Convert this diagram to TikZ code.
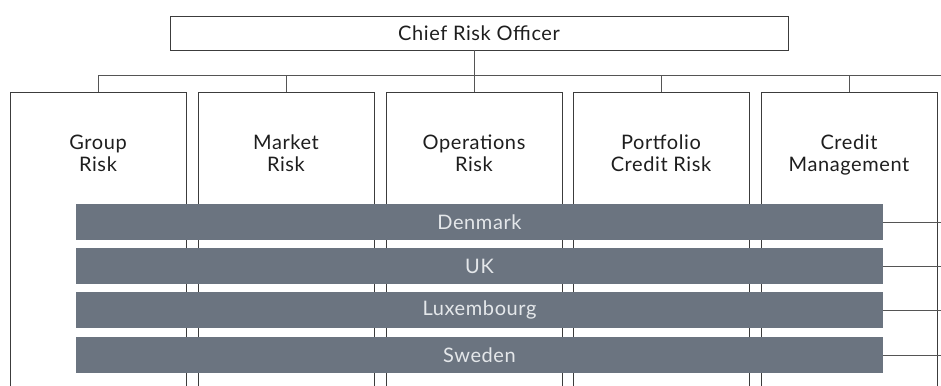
\documentclass[tikz,border=0pt]{standalone}
\usepackage{fontspec}
\setmainfont{Lato}[LetterSpace=3]
\definecolor{barfill}{RGB}{107,116,128}
\definecolor{bartext}{RGB}{228,231,234}
\definecolor{boxline}{RGB}{60,60,60}
\definecolor{wire}{RGB}{85,85,85}
\definecolor{ink}{RGB}{30,30,30}

\begin{document}
\begin{tikzpicture}[x=1pt, y=-1pt,
  officebox/.style={draw=boxline, line width=0.8pt, minimum width=618pt, minimum height=34pt, inner sep=0pt, text=ink, font=\fontsize{20}{22}\selectfont},
  deptbox/.style={draw=boxline, line width=0.8pt, minimum width=176pt, minimum height=330pt, anchor=north, inner sep=0pt},
  deptname/.style={anchor=north, inner sep=0pt, yshift=-43pt, align=center, text=ink, font=\fontsize{20}{21.7}\selectfont},
  countrybar/.style={fill=barfill, text=bartext, minimum width=807pt, minimum height=36pt, inner sep=0pt, font=\fontsize{20}{22}\selectfont},
  wire/.style={draw=wire, line width=0.8pt}]
\clip (0,0) rectangle (941,385);
\useasboundingbox (0,0) rectangle (941,385);
\coordinate (bus) at (0,75);
\coordinate (edge) at (941,0);
\node[officebox] (cro) at (479,33) {Chief Risk Officer};
\node[deptbox, label={[deptname]north:Group\\Risk}] (grp) at (98,92) {};
\node[deptbox, label={[deptname]north:Market\\Risk}] (mkt) at (286,92) {};
\node[deptbox, label={[deptname]north:Operations\\Risk}] (ops) at (474,92) {};
\node[deptbox, label={[deptname]north:Portfolio\\Credit Risk}] (pcr) at (661,92) {};
\node[deptbox, label={[deptname]north:Credit\\Management}] (cmg) at (849,92) {};
% reporting lines
\draw[wire] (ops.north |- cro.south) -- (ops.north |- bus);
\draw[wire] (grp.north |- bus) -- (edge |- bus);
\foreach \d in {grp,mkt,ops,pcr,cmg}
  \draw[wire] (\d.north) -- (\d.north |- bus);
% country bars
\node[countrybar] (dk) at (479.5,222) {Denmark};
\node[countrybar] (uk) at (479.5,266) {UK};
\node[countrybar] (lu) at (479.5,310) {Luxembourg};
\node[countrybar] (se) at (479.5,355) {Sweden};
\foreach \c in {dk,uk,lu,se}
  \draw[wire] (\c.east) -- (\c.east -| edge);
\end{tikzpicture}
\end{document}
